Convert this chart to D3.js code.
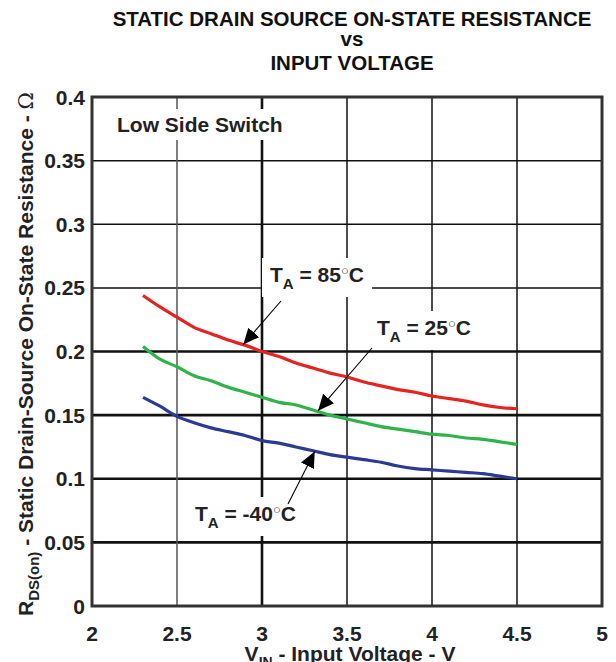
<!DOCTYPE html>
<html><head><meta charset="utf-8">
<script src="https://cdn.jsdelivr.net/npm/d3@7"></script>
<style>html,body{margin:0;padding:0;background:#fff;}svg{display:block;}</style>
</head><body>
<svg id="chart" width="616" height="662"></svg>
<script>
// ---- data ----
const vin   = [2.3,2.4,2.5,2.6,2.7,2.8,2.9,3.0,3.1,3.2,3.3,3.4,3.5,3.6,3.7,3.8,3.9,4.0,4.1,4.2,4.3,4.4,4.5];
const r85   = [0.244,0.235,0.227,0.219,0.214,0.209,0.205,0.200,0.196,0.191,0.187,0.183,0.180,0.176,0.173,0.170,0.168,0.165,0.163,0.161,0.158,0.156,0.155];
const r25   = [0.204,0.194,0.188,0.181,0.177,0.172,0.168,0.164,0.160,0.158,0.154,0.150,0.147,0.144,0.141,0.139,0.137,0.135,0.134,0.132,0.131,0.129,0.127];
const rm40  = [0.164,0.157,0.149,0.144,0.140,0.137,0.134,0.130,0.128,0.125,0.122,0.119,0.117,0.115,0.113,0.110,0.108,0.107,0.106,0.105,0.104,0.102,0.100];
const seriesNames = ["85", "25", "-40"];
const xTicks = [2,2.5,3,3.5,4,4.5,5];
const xTickLabels = ["2","2.5","3","3.5","4","4.5","5"];
const yTicks = [0,0.05,0.1,0.15,0.2,0.25,0.3,0.35,0.4];
const yTickLabels = ["0","0.05","0.1","0.15","0.2","0.25","0.3","0.35","0.4"];
const titleLines = ["STATIC DRAIN SOURCE ON-STATE RESISTANCE","vs","INPUT VOLTAGE"];

// ---- layout ----
const svg = d3.select("#chart");
const F = "'Liberation Sans', Arial, sans-serif";
const x = d3.scaleLinear().domain([2,5]).range([92,602]);
const y = d3.scaleLinear().domain([0,0.4]).range([606,97]);
const colors = {"85":"#e8221f","25":"#2fb34b","-40":"#2b3a93"};
const dataBy = {"85":r85,"25":r25,"-40":rm40};

// title
const titleY = [26,46,70];
titleLines.forEach((t,i)=>{
  svg.append("text").attr("x",352).attr("y",titleY[i]).attr("text-anchor","middle")
    .attr("font-family",F).attr("font-weight","bold").attr("font-size",20.5).attr("fill","#111").text(t);
});

// grid
const thickY = [0.05,0.1,0.15,0.2];
const g = svg.append("g");
yTicks.filter(v=>v>0 && v<0.4).forEach(v=>{
  g.append("line").attr("x1",x(2)).attr("x2",x(5)).attr("y1",y(v)).attr("y2",y(v))
    .attr("stroke","#111").attr("stroke-width", thickY.includes(v)?2.6:1.5);
});
xTicks.filter(v=>v>2 && v<5).forEach(v=>{
  g.append("line").attr("y1",y(0)).attr("y2",y(0.4)).attr("x1",x(v)).attr("x2",x(v))
    .attr("stroke", v===2.5?"#555":"#111").attr("stroke-width", v===3?2.6:1.5);
});

function label(parts, xd, yd){
  const t = svg.append("text").attr("x",x(xd)).attr("y",y(yd))
    .attr("font-family",F).attr("font-weight","bold").attr("font-size",21).attr("fill","#222");
  parts(t);
  return t;
}
function boxBehind(t, padX, padY){
  const b = t.node().getBBox();
  svg.insert("rect", function(){ return t.node(); })
    .attr("x",b.x-padX).attr("y",b.y-padY).attr("width",b.width+2*padX).attr("height",b.height+2*padY)
    .attr("fill","#fff");
}
function taLabel(tempText, xd, yd){
  return label(t=>{
    t.append("tspan").text("T");
    t.append("tspan").attr("font-size",15).attr("dy",7).text("A");
    t.append("tspan").attr("dy",-7).text(" = " + tempText);
    t.append("tspan").attr("font-size",13).attr("font-weight","normal").attr("dy",-7).text("○");
    t.append("tspan").attr("dy",7).text("C");
  }, xd, yd);
}

const lss = label(t=>t.text("Low Side Switch"), x.invert(117), y.invert(132));
boxBehind(lss, 5, 4);

const a85 = taLabel("85", x.invert(270), y.invert(282)); boxBehind(a85, 8, 5);
const a25 = taLabel("25", x.invert(377), y.invert(335)); boxBehind(a25, 6, 5);
const am40 = taLabel("-40", x.invert(195), y.invert(521)); boxBehind(am40, 6, 5);

// border
svg.append("rect").attr("x",x(2)).attr("y",y(0.4)).attr("width",x(5)-x(2)).attr("height",y(0)-y(0.4))
  .attr("fill","none").attr("stroke","#333").attr("stroke-width",3);

// curves
const line = d3.line().x((d,i)=>x(vin[i])).y(d=>y(d)).curve(d3.curveMonotoneX);
seriesNames.forEach(s=>{
  svg.append("path").attr("d",line(dataBy[s])).attr("fill","none")
    .attr("stroke",colors[s]).attr("stroke-width",3.2).attr("stroke-linejoin","round");
});

// arrows
const defs = svg.append("defs");
defs.append("marker").attr("id","ah").attr("viewBox","0 0 10 10").attr("refX",10).attr("refY",5)
  .attr("markerWidth",16).attr("markerHeight",16).attr("markerUnits","userSpaceOnUse").attr("orient","auto")
  .append("path").attr("d","M0,0.5 L10,5 L0,9.5 Z").attr("fill","#000");
const arrows = [
  [x.invert(281), y.invert(301), 2.89, 0.2055],
  [x.invert(372), y.invert(348), 3.33, 0.1535],
  [x.invert(288), y.invert(504), 3.31, 0.1215]
];
arrows.forEach(a=>{
  svg.append("line").attr("x1",x(a[0])).attr("y1",y(a[1])).attr("x2",x(a[2])).attr("y2",y(a[3]))
    .attr("stroke","#000").attr("stroke-width",1.1).attr("marker-end","url(#ah)");
});

// tick labels
svg.append("g").selectAll("text").data(yTicks).join("text")
  .attr("x",85).attr("y",d=>y(d)).attr("dy","0.36em").attr("text-anchor","end")
  .attr("font-family",F).attr("font-weight","bold").attr("font-size",21).attr("fill","#222")
  .text((d,i)=>yTickLabels[i]);
svg.append("g").selectAll("text").data(xTicks).join("text")
  .attr("x",d=>x(d)).attr("y",641).attr("text-anchor","middle")
  .attr("font-family",F).attr("font-weight","bold").attr("font-size",21).attr("fill","#222")
  .text((d,i)=>xTickLabels[i]);

// axis titles
const xt = svg.append("text").attr("x",350).attr("y",661).attr("text-anchor","middle")
  .attr("font-family",F).attr("font-weight","bold").attr("font-size",21).attr("fill","#222");
xt.append("tspan").text("V");
xt.append("tspan").attr("font-size",14).attr("dy",6).text("IN");
xt.append("tspan").attr("dy",-6).text(" - Input Voltage - V");

const yt = svg.append("text").attr("transform","translate(33,354) rotate(-90)").attr("text-anchor","middle")
  .attr("font-family",F).attr("font-weight","bold").attr("font-size",21).attr("fill","#222");
yt.append("tspan").text("R");
yt.append("tspan").attr("font-size",15).attr("dy",6).text("DS(on)");
yt.append("tspan").attr("dy",-6).text(" - Static Drain-Source On-State Resistance - ");
yt.append("tspan").attr("font-family","'DejaVu Serif', 'Liberation Serif', serif").attr("font-weight","normal").text("Ω");
</script>
</body></html>
